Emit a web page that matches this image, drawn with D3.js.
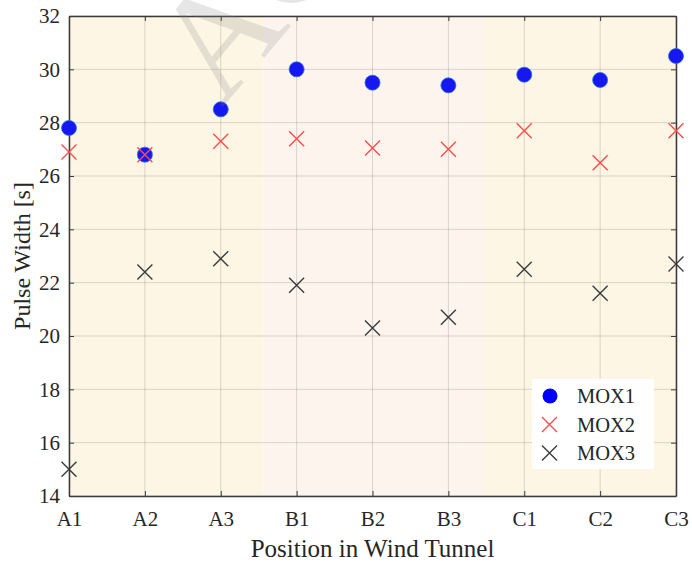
<!DOCTYPE html>
<html>
<head>
<meta charset="utf-8">
<script src="https://cdn.jsdelivr.net/npm/d3@7"></script>
<style>
  body { margin: 0; background: #ffffff; }
  text { font-family: "Liberation Serif", "Times New Roman", serif; }
</style>
</head>
<body>
<div id="chart"></div>
<script>
// sensor positions along the tunnel
var positions = ['A1', 'A2', 'A3', 'B1', 'B2', 'B3', 'C1', 'C2', 'C3'];

// pulse width [s] per sensor
var mox1 = [27.8, 26.8, 28.5, 30.0, 29.5, 29.4, 29.8, 29.6, 30.5];
var mox2 = [26.9, 26.8, 27.3, 27.4, 27.05, 27.0, 27.7, 26.5, 27.7];
var mox3 = [15.0, 22.4, 22.9, 21.9, 20.3, 20.7, 22.5, 21.6, 22.7];

var yTicks = [14, 16, 18, 20, 22, 24, 26, 28, 30, 32];

// shaded sections, in position index units
var zoneEdges = [0, 2.56, 5.47, 8];

var w = 692;
var h = 563;
var margin = {top: 16, right: 16, bottom: 67, left: 69};

var svg = d3.select('#chart')
  .append('svg')
    .attr('width', w)
    .attr('height', h);

var x = d3.scaleLinear()
  .domain([0, positions.length - 1])
  .range([margin.left, w - margin.right]);

var y = d3.scaleLinear()
  .domain([14, 32])
  .range([h - margin.bottom, margin.top]);

var zoneColor = ['#fdf6e4', '#fdf4ee', '#fdf6e4'];

// background sections
svg.append('g')
  .selectAll('rect')
  .data(d3.pairs(zoneEdges))
  .enter()
  .append('rect')
    .attr('x', function(d) { return x(d[0]); })
    .attr('y', y(32))
    .attr('width', function(d) { return x(d[1]) - x(d[0]); })
    .attr('height', y(14) - y(32))
    .style('fill', function(d, i) { return zoneColor[i]; });

// grid
var grid = svg.append('g').attr('class', 'grid');
grid.selectAll('.vgrid')
  .data(d3.range(positions.length))
  .enter()
  .append('line')
    .attr('x1', function(d) { return x(d); })
    .attr('x2', function(d) { return x(d); })
    .attr('y1', y(14))
    .attr('y2', y(32))
    .style('stroke', '#000')
    .style('stroke-opacity', 0.14);
grid.selectAll('.hgrid')
  .data(yTicks)
  .enter()
  .append('line')
    .attr('x1', x(0))
    .attr('x2', x(8))
    .attr('y1', function(d) { return y(d); })
    .attr('y2', function(d) { return y(d); })
    .style('stroke', '#000')
    .style('stroke-opacity', 0.14);

// box axes, ticks pointing inward
var fmtPos = function(i) { return positions[i]; };
var xIdx = d3.range(positions.length);

var axB = svg.append('g')
  .attr('transform', 'translate(0,' + y(14) + ')')
  .call(d3.axisBottom(x).tickValues(xIdx).tickFormat(fmtPos)
    .tickSizeInner(-5).tickSizeOuter(0).tickPadding(15));
var axT = svg.append('g')
  .attr('transform', 'translate(0,' + y(32) + ')')
  .call(d3.axisTop(x).tickValues(xIdx).tickFormat('')
    .tickSizeInner(-5).tickSizeOuter(0));
var axL = svg.append('g')
  .attr('transform', 'translate(' + x(0) + ',0)')
  .call(d3.axisLeft(y).tickValues(yTicks)
    .tickSizeInner(-5).tickSizeOuter(0).tickPadding(9));
var axR = svg.append('g')
  .attr('transform', 'translate(' + x(8) + ',0)')
  .call(d3.axisRight(y).tickValues(yTicks).tickFormat('')
    .tickSizeInner(-5).tickSizeOuter(0));

[axB, axT, axL, axR].forEach(function(ax) {
  ax.select('.domain').style('stroke', '#3a3a3a').style('stroke-width', 1.5);
  ax.selectAll('.tick line').style('stroke', '#3a3a3a');
  ax.selectAll('text')
    .style('font-family', '"Liberation Serif", "Times New Roman", serif')
    .style('font-size', '21px')
    .style('fill', '#262626');
});

// axis titles
svg.append('text')
  .attr('x', (x(0) + x(8)) / 2)
  .attr('y', 557)
  .attr('text-anchor', 'middle')
  .style('font-size', '25px')
  .style('fill', '#262626')
  .text('Position in Wind Tunnel');

svg.append('text')
  .attr('transform', 'translate(30,' + (y(14) + y(32)) / 2 + ') rotate(-90)')
  .attr('text-anchor', 'middle')
  .style('font-size', '24px')
  .style('fill', '#262626')
  .text('Pulse Width [s]');

// markers
var cross = function(g, data, col) {
  var s = 7.5;
  g.selectAll('path')
    .data(data)
    .enter()
    .append('path')
      .attr('d', function(d, i) {
        var cx = x(i), cy = y(d);
        return 'M' + (cx - s) + ',' + (cy - s) + 'L' + (cx + s) + ',' + (cy + s) +
          'M' + (cx - s) + ',' + (cy + s) + 'L' + (cx + s) + ',' + (cy - s);
      })
      .style('stroke', col)
      .style('stroke-width', 1.4)
      .style('fill', 'none');
};

svg.append('g')
  .selectAll('circle')
  .data(mox1)
  .enter()
  .append('circle')
    .attr('cx', function(d, i) { return x(i); })
    .attr('cy', function(d) { return y(d); })
    .attr('r', 7.5)
    .style('fill', '#1717f2')
    .style('stroke', '#2a70d8')
    .style('stroke-width', 0.8);

cross(svg.append('g'), mox2, '#ff4a4a');
cross(svg.append('g'), mox3, '#3a3a3a');

// legend
var leg = svg.append('g');
leg.append('rect')
  .attr('x', 532)
  .attr('y', 379)
  .attr('width', 122)
  .attr('height', 90)
  .style('fill', '#ffffff');

var legItems = ['MOX1', 'MOX2', 'MOX3'];
var legColor = ['#0000ff', '#ff4a4a', '#3a3a3a'];
legItems.forEach(function(name, i) {
  var cy = 396 + i * 28.5;
  if (i == 0) {
    leg.append('circle')
      .attr('cx', 550).attr('cy', cy).attr('r', 7.5)
      .style('fill', legColor[i]);
  } else {
    leg.append('path')
      .attr('d', 'M542,' + (cy - 7.5) + 'L557,' + (cy + 7.5) + 'M542,' + (cy + 7.5) + 'L557,' + (cy - 7.5))
      .style('stroke', legColor[i])
      .style('stroke-width', 1.4);
  }
  leg.append('text')
    .attr('x', 577)
    .attr('y', cy + 7)
    .style('font-size', '20.5px')
    .style('fill', '#262626')
    .text(name);
});

// faint watermark running across the top
svg.append('text')
  .attr('transform', 'translate(222,108) rotate(-50)')
  .style('font-size', '150px')
  .style('fill', '#808080')
  .style('fill-opacity', 0.2)
  .text('ACCEPTED MANUSCRIPT');
</script>
</body>
</html>
